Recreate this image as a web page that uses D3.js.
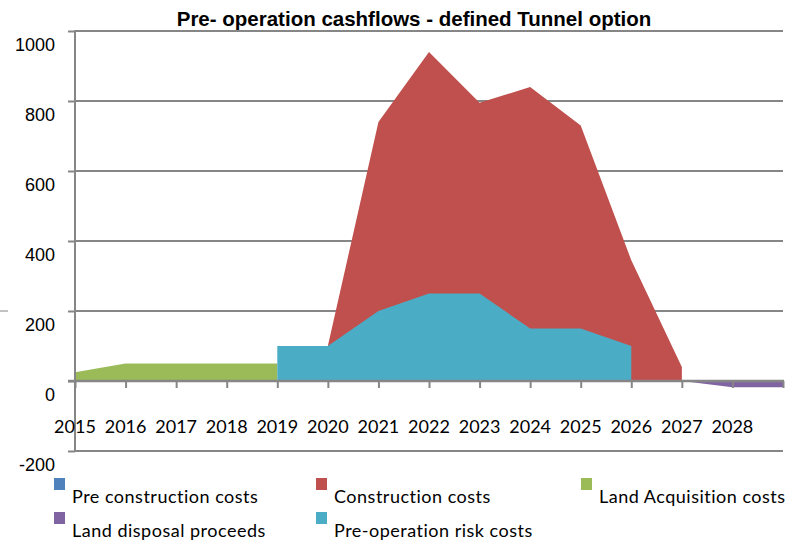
<html lang="en">
<head>
<meta charset="UTF-8">
<title>Pre-operation cashflows</title>
<script src="https://d3js.org/d3.v7.min.js"></script>
<style>
  body { margin: 0; background: #fff; }
  .title { font-family: "Liberation Sans", Arial, sans-serif; font-weight: bold; font-size: 20.5px; }
  .ylab { font-family: "Liberation Sans", Arial, sans-serif; font-size: 18px; }
  .xlab { font-family: Lato, sans-serif; font-size: 18px; }
  .leg { font-family: Lato, sans-serif; font-size: 18px; letter-spacing: 0.5px; }
</style>
</head>
<body>
<div id="chart"></div>
<script>
// category axis (last category has no label in the original)
const years = [2015, 2016, 2017, 2018, 2019, 2020, 2021, 2022, 2023, 2024, 2025, 2026, 2027, 2028, 2029];
const yearLabels = ["2015", "2016", "2017", "2018", "2019", "2020", "2021", "2022", "2023", "2024", "2025", "2026", "2027", "2028", ""];
const yTicks = [-200, 0, 200, 400, 600, 800, 1000];

// series (null = no value)
const preConstruction = [null, null, null, null, null, null, null, null, null, null, null, null, null, null, null];
const construction    = [null, null, null, null, 0, 100, 740, 940, 795, 840, 730, 345, 40, null, null];
const landAcquisition = [25, 50, 50, 50, 50, null, null, null, null, null, null, null, null, null, null];
const landDisposal    = [null, null, null, null, null, null, null, null, null, null, null, null, 0, -18, -18];
const preOpRisk       = [null, null, null, null, 100, 100, 200, 250, 250, 150, 150, 100, null, null, null];

const seriesNames = ["Pre construction costs", "Construction costs", "Land Acquisition costs", "Land disposal proceeds", "Pre-operation risk costs"];
const seriesValues = [preConstruction, construction, landAcquisition, landDisposal, preOpRisk];
const colors = ["#4F81BD", "#C0504D", "#9BBB59", "#8064A2", "#4BACC6"];

function drawChart () {
  var W = 793, H = 545;
  var m = { left: 75, right: 783, top: 31, bottom: 451 };
  var gridColor = "#868686";

  var svg = d3.select("#chart").append("svg")
    .attr("width", W)
    .attr("height", H)
    .style("background", "#fff");

  var x = d3.scalePoint().domain(years).range([m.left, m.right]);
  var y = d3.scaleLinear().domain([-200, 1000]).range([m.bottom, m.top]);

  // title
  svg.append("text")
    .attr("class", "title")
    .attr("x", 414)
    .attr("y", 26)
    .attr("text-anchor", "middle")
    .text("Pre- operation cashflows - defined Tunnel option");

  // horizontal gridlines (zero line is drawn later as the category axis)
  svg.append("g")
    .selectAll("line")
    .data(yTicks.filter(d => d !== 0))
    .join("line")
    .attr("x1", m.left).attr("x2", m.right)
    .attr("y1", d => y(d)).attr("y2", d => y(d))
    .attr("stroke", gridColor)
    .attr("stroke-width", 2);

  // areas, drawn in series order so later ones overlap earlier ones
  var area = d3.area()
    .defined(d => d.v != null)
    .x(d => x(d.year))
    .y0(y(0))
    .y1(d => y(d.v));

  svg.append("g")
    .selectAll("path")
    .data(seriesValues.map((vals, i) => ({ color: colors[i], pts: years.map((yr, j) => ({ year: yr, v: vals[j] })) })))
    .join("path")
    .attr("d", d => area(d.pts))
    .attr("fill", d => d.color);

  // value axis
  var yAxis = d3.axisLeft(y)
    .tickValues(yTicks)
    .tickSize(7)
    .tickFormat("");
  var gy = svg.append("g")
    .attr("transform", "translate(" + m.left + ",0)")
    .call(yAxis);
  gy.select(".domain").remove();
  gy.selectAll(".tick line").attr("stroke", gridColor).attr("stroke-width", 2);
  svg.append("line")
    .attr("x1", m.left).attr("x2", m.left)
    .attr("y1", m.top - 1).attr("y2", m.bottom + 1)
    .attr("stroke", gridColor).attr("stroke-width", 2);

  // value labels sit a little below their gridlines, as in the original
  svg.append("g")
    .selectAll("text")
    .data(yTicks)
    .join("text")
    .attr("class", "ylab")
    .attr("x", 55)
    .attr("y", d => y(d) + 20)
    .attr("text-anchor", "end")
    .text(d => d);

  // category axis on the zero line
  var xAxis = d3.axisBottom(x)
    .tickSize(7)
    .tickFormat("");
  var gx = svg.append("g")
    .attr("transform", "translate(0," + y(0) + ")")
    .call(xAxis);
  gx.select(".domain").remove();
  gx.selectAll(".tick line").attr("stroke", gridColor).attr("stroke-width", 2);
  svg.append("line")
    .attr("x1", m.left - 7).attr("x2", m.right + 1)
    .attr("y1", y(0)).attr("y2", y(0))
    .attr("stroke", gridColor).attr("stroke-width", 2.5);

  svg.append("g")
    .selectAll("text")
    .data(years)
    .join("text")
    .attr("class", "xlab")
    .attr("x", d => x(d))
    .attr("y", 433)
    .attr("text-anchor", "middle")
    .text((d, i) => yearLabels[i]);

  // stray dash at the far left
  svg.append("line")
    .attr("x1", 0).attr("x2", 8)
    .attr("y1", 311).attr("y2", 311)
    .attr("stroke", gridColor).attr("stroke-width", 1);

  // legend: two rows, three columns
  var legX = [54, 316, 581];
  var legY = [478, 512];
  var leg = svg.append("g")
    .selectAll("g")
    .data(seriesNames)
    .join("g")
    .attr("transform", (d, i) => "translate(" + legX[i % 3] + "," + legY[Math.floor(i / 3)] + ")");
  leg.append("rect")
    .attr("width", 11)
    .attr("height", 12)
    .attr("fill", (d, i) => colors[i]);
  leg.append("text")
    .attr("class", "leg")
    .attr("x", 18)
    .attr("y", 25)
    .text(d => d);
}

drawChart();
</script>
</body>
</html>
